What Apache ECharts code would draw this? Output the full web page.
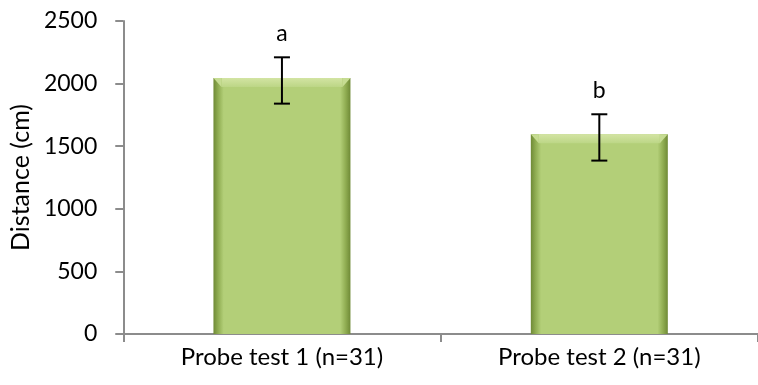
<!DOCTYPE html>
<html>
<head>
<meta charset="utf-8">
<script src="https://cdn.jsdelivr.net/npm/echarts@6/dist/echarts.min.js"></script>
<style>
  html, body { margin: 0; padding: 0; background: #fff; }
  #chart { width: 758px; height: 385px; }
</style>
</head>
<body>
<div id="chart"></div>
<script>
// Mean distance per probe test with error bar limits and significance letters
const categories = ['Probe test 1 (n=31)', 'Probe test 2 (n=31)'];
const distance = [2045, 1595];
const errLow = [1840, 1385];
const errHigh = [2210, 1755];
const sigLetters = ['a', 'b'];
const yTicks = { min: 0, max: 2500, interval: 500 };

const FONT = 'Lato, "Open Sans", sans-serif';
const AXIS_GREY = '#8c8c8c';

const chart = echarts.init(document.getElementById('chart'));

chart.setOption({
  animation: false,
  grid: { left: 123, top: 21, width: 647, height: 313, containLabel: false },
  xAxis: {
    type: 'category',
    data: categories,
    axisLine: { lineStyle: { color: AXIS_GREY, width: 2 } },
    axisTick: { show: true, length: 8, alignWithLabel: false, lineStyle: { color: AXIS_GREY, width: 2 } },
    axisLabel: { color: '#000', fontFamily: FONT, fontSize: 24, margin: 11 }
  },
  yAxis: {
    type: 'value',
    min: yTicks.min,
    max: yTicks.max,
    interval: yTicks.interval,
    name: 'Distance (cm)',
    nameLocation: 'middle',
    nameGap: 88,
    nameTextStyle: { color: '#000', fontFamily: FONT, fontSize: 25 },
    splitLine: { show: false },
    axisLine: { show: true, lineStyle: { color: AXIS_GREY, width: 2 } },
    axisTick: { show: true, length: 8, lineStyle: { color: AXIS_GREY, width: 2 } },
    axisLabel: {
      color: '#000', fontFamily: FONT, fontSize: 23, margin: 26,
      formatter: function (v) { return String(v); }
    }
  },
  series: [
    {
      type: 'bar',
      data: distance,
      barWidth: 137,
      itemStyle: {
        color: new echarts.graphic.LinearGradient(0, 0, 1, 0, [
          { offset: 0, color: '#6f8a36' },
          { offset: 0.035, color: '#90ad52' },
          { offset: 0.075, color: '#b3cf78' },
          { offset: 0.925, color: '#b3cf78' },
          { offset: 0.965, color: '#90ad52' },
          { offset: 1, color: '#6f8a36' }
        ])
      },
      z: 2
    },
    {
      // bevel highlight along the top edge of each bar
      type: 'custom',
      data: distance.map((v, i) => [i, v]),
      renderItem: function (params, api) {
        const p = api.coord([api.value(0), api.value(1)]);
        const w = 137;
        const x0 = p[0] - w / 2;
        return {
          type: 'group',
          children: [
            {
              type: 'rect',
              shape: { x: x0 + 8, y: p[1], width: w - 16, height: 9 },
              style: {
                fill: new echarts.graphic.LinearGradient(0, 0, 0, 1, [
                  { offset: 0, color: '#d3e4a3' },
                  { offset: 1, color: '#bcd686' }
                ])
              }
            },
            {
              type: 'polygon',
              shape: { points: [[x0, p[1]], [x0 + 8, p[1]], [x0 + 8, p[1] + 9]] },
              style: { fill: '#c6dc92' }
            },
            {
              type: 'polygon',
              shape: { points: [[x0 + w, p[1]], [x0 + w - 8, p[1]], [x0 + w - 8, p[1] + 9]] },
              style: { fill: '#c6dc92' }
            }
          ]
        };
      },
      z: 3,
      silent: true
    },
    {
      // error bars and significance letters
      type: 'custom',
      data: distance.map((v, i) => [i, errLow[i], errHigh[i]]),
      renderItem: function (params, api) {
        const i = api.value(0);
        const lo = api.coord([i, api.value(1)]);
        const hi = api.coord([i, api.value(2)]);
        const cap = 8;
        const ls = { stroke: '#000', lineWidth: 2 };
        return {
          type: 'group',
          children: [
            { type: 'line', shape: { x1: hi[0], y1: hi[1], x2: lo[0], y2: lo[1] }, style: ls },
            { type: 'line', shape: { x1: hi[0] - cap, y1: hi[1], x2: hi[0] + cap, y2: hi[1] }, style: ls },
            { type: 'line', shape: { x1: lo[0] - cap, y1: lo[1], x2: lo[0] + cap, y2: lo[1] }, style: ls },
            {
              type: 'text',
              style: {
                text: sigLetters[i],
                x: hi[0],
                y: hi[1] - 24,
                align: 'center',
                verticalAlign: 'middle',
                fill: '#000',
                font: '23px ' + FONT
              }
            }
          ]
        };
      },
      z: 4,
      silent: true
    }
  ]
});
</script>
</body>
</html>
